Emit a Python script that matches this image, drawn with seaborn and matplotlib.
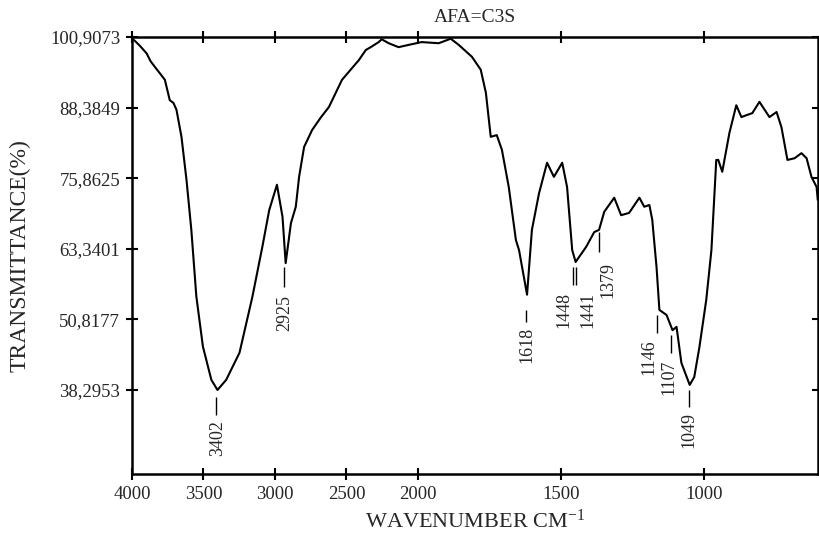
"""IR-Spektrum AFA=C3S nachgezeichnet (Transmission über Wellenzahl)."""
import numpy as np
import pandas as pd
import matplotlib
matplotlib.use("Agg")
import matplotlib.pyplot as plt
import seaborn as sns

# Spektrum
wavenumber = [4000, 3979, 3940, 3898, 3870, 3840, 3800, 3770, 3736, 3710,
              3689, 3654, 3619, 3585, 3550, 3504, 3445, 3402, 3341, 3248,
              3158, 3088, 3040, 2986, 2947, 2925, 2888, 2854, 2831, 2796,
              2740, 2680, 2622, 2531, 2413, 2364, 2330, 2274, 2253, 2204,
              2135, 2065, 1987, 1927, 1885, 1857, 1811, 1780, 1762, 1745,
              1724, 1706, 1682, 1657, 1646, 1618, 1601, 1576, 1548, 1524,
              1495, 1478, 1460, 1448, 1411, 1383, 1366, 1348, 1313, 1289,
              1261, 1225, 1208, 1190, 1180, 1165, 1155, 1130, 1109, 1095,
              1078, 1049, 1033, 1015, 991, 973, 956, 949, 935, 910,
              886, 868, 847, 830, 805, 770, 745, 728, 707, 682,
              658, 640, 623, 605, 601]
transmittance = [100.6, 100.2, 99.2, 98.0, 96.6, 95.6, 94.3, 93.3, 89.7, 89.2,
                 88.0, 83.2, 75.6, 66.7, 54.9, 46.0, 40.1, 38.3, 40.1, 44.9,
                 54.8, 63.7, 70.2, 74.7, 69.0, 60.8, 67.9, 70.8, 76.1, 81.4,
                 84.4, 86.6, 88.5, 93.3, 96.8, 98.6, 99.1, 100.0, 100.5, 99.8,
                 99.1, 99.5, 100.0, 99.8, 100.6, 99.5, 97.4, 95.1, 91.0, 83.2,
                 83.5, 80.9, 74.3, 64.9, 63.1, 55.2, 66.7, 73.2, 78.6, 76.1,
                 78.6, 74.3, 63.1, 61.0, 63.7, 66.3, 66.7, 69.9, 72.4, 69.3,
                 69.7, 72.4, 70.8, 71.1, 68.5, 60.1, 52.5, 51.6, 48.9, 49.5,
                 43.1, 39.2, 40.6, 45.9, 54.3, 63.1, 79.1, 79.1, 77.0, 83.9,
                 88.8, 86.7, 87.1, 87.4, 89.4, 86.7, 87.6, 84.9, 79.1, 79.4,
                 80.3, 79.4, 76.1, 74.3, 72.0]

y_ticks = [100.9073, 88.3849, 75.8625, 63.3401, 50.8177, 38.2953]
y_tick_labels = ["100,9073", "88,3849", "75,8625", "63,3401", "50,8177", "38,2953"]
x_ticks = [4000, 3500, 3000, 2500, 2000, 1500, 1000]
x_tick_labels = ["4000", "3500", "3000", "2500", "2000", "1500", "1000"]

peak_labels = ["3402", "2925", "1618", "1448", "1441", "1379", "1146", "1107", "1049"]

# Lage der Beschriftungen (Striche und Texte)
label_x = [3401, 2932, 1618, 1488, 1404, 1334, 1190, 1120, 1053]
line_x = [3415, 2936, 1622, 1457, 1447, 1366, 1165, 1113, 1053]
line_top = [37.1, 60.1, 52.5, 60.1, 60.1, 66.3, 51.6, 48.1, 38.3]
line_bottom = [33.9, 56.6, 50.4, 57.0, 57.0, 62.8, 48.4, 44.9, 35.3]
text_top = [33.0, 55.2, 49.5, 55.7, 55.7, 61.0, 47.2, 43.6, 34.4]


def forward(w):
    # unter 2000 cm-1 doppelter Maßstab
    w = np.asarray(w, dtype=float)
    return np.where(w >= 2000, w, 2 * w - 2000)


def inverse(u):
    u = np.asarray(u, dtype=float)
    return np.where(u >= 2000, u, (u + 2000) / 2)


sns.set_style("ticks")
plt.rcParams['font.family'] = ['Liberation Serif', 'DejaVu Serif']
plt.rcParams['mathtext.default'] = 'regular'

df = pd.DataFrame({"wavenumber": wavenumber, "transmittance": transmittance})

fig = plt.figure(figsize=(8.2, 5.47), dpi=100)
ax = fig.add_axes([0.161, 0.1335, 0.8366, 0.7989])
ax.set_xscale('function', functions=(forward, inverse))

sns.lineplot(data=df, x="wavenumber", y="transmittance", ax=ax,
             color="black", linewidth=1.5, sort=False)

ax.set_xlim(4000, 600)
ax.set_ylim(23.4, 100.9073)
ax.set_xticks(x_ticks)
ax.set_xticklabels(x_tick_labels)
ax.set_yticks(y_ticks)
ax.set_yticklabels(y_tick_labels)
ax.minorticks_off()

ax.tick_params(axis='both', direction='inout', length=9, width=1.5,
               labelsize=13.5, top=True, right=True, color='black', pad=4)
for side in ax.spines.values():
    side.set_linewidth(1.8)
    side.set_color('black')

for lab, lx, ln_x, lt, lb, tt in zip(peak_labels, label_x, line_x,
                                     line_top, line_bottom, text_top):
    ax.vlines(ln_x, lb, lt, color='black', linewidth=1.0)
    ax.text(lx, tt, lab, rotation=90, ha='center', va='top', fontsize=13)

ax.set_title("AFA=C3S", fontsize=14, pad=11)
ax.set_xlabel("WAVENUMBER CM$^{-1}$", fontsize=16, labelpad=5)
ax.set_ylabel("TRANSMITTANCE(%)", fontsize=17, labelpad=14)

fig.savefig("out.png", dpi=100)
plt.close(fig)
